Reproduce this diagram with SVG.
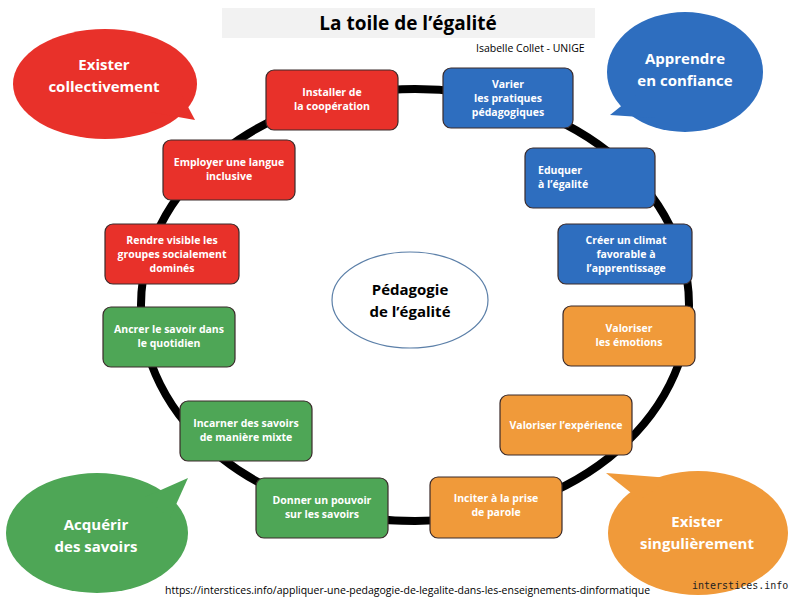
<svg xmlns="http://www.w3.org/2000/svg" width="799" height="600" viewBox="0 0 799 600">
<style>
.t{font-family:"Open Sans","Liberation Sans",sans-serif;font-weight:bold;fill:#fff;text-anchor:middle}
.n{font-size:10.5px}
.b{font-size:15px}
rect.box{stroke:#3a2a2a;stroke-width:1.2}
.red{fill:#e8312a}.blue{fill:#2e6ebf}.org{fill:#f09a3a}.grn{fill:#4ea656}
</style>
<rect width="799" height="600" fill="#fff"/>
<g id="connectors"><ellipse cx="415" cy="305" rx="274" ry="216" fill="none" stroke="#000" stroke-width="8"/></g>
<g id="title"><rect x="222" y="8" width="373" height="30" fill="#f2f2f2"/>
<text x="408" y="30" text-anchor="middle" font-family="Open Sans,Liberation Sans,sans-serif" font-weight="bold" font-size="19">La toile de l’égalité</text>
<text x="476" y="52" font-family="Open Sans,Liberation Sans,sans-serif" font-size="10.5">Isabelle Collet - UNIGE</text></g>
<g id="b-red"><ellipse class="red" cx="105" cy="84" rx="92" ry="55"/><polygon class="red" points="150,112 195,120 178,88"/><text class="t b" x="104" y="70">Exister</text><text class="t b" x="104" y="92">collectivement</text></g>
<g id="b-blue"><ellipse class="blue" cx="685" cy="72" rx="78" ry="60"/><polygon class="blue" points="635,95 610,115 655,118"/><text class="t b" x="685" y="64">Apprendre</text><text class="t b" x="685" y="86">en confiance</text></g>
<g id="b-green"><ellipse class="grn" cx="97" cy="533" rx="91" ry="60"/><polygon class="grn" points="145,497 188,478 170,518"/><text class="t b" x="96" y="530">Acquérir</text><text class="t b" x="96" y="552">des savoirs</text></g>
<g id="b-orange"><ellipse class="org" cx="698" cy="533" rx="90" ry="62"/><polygon class="org" points="640,500 606,473 670,478"/><text class="t b" x="697" y="527">Exister</text><text class="t b" x="697" y="549">singulièrement</text></g>
<g id="center"><ellipse cx="410" cy="300" rx="78" ry="48" fill="#fff" stroke="#5b7fa8" stroke-width="1.2"/>
<text x="410" y="295" text-anchor="middle" font-family="Open Sans,Liberation Sans,sans-serif" font-weight="bold" font-size="15">Pédagogie</text>
<text x="410" y="317" text-anchor="middle" font-family="Open Sans,Liberation Sans,sans-serif" font-weight="bold" font-size="15">de l’égalité</text></g>
<g id="n1"><rect class="box red" x="266" y="70" width="132" height="60" rx="8"/><text class="t n" x="332" y="96">Installer de</text><text class="t n" x="332" y="110">la coopération</text></g>
<g id="n2"><rect class="box blue" x="443" y="68" width="130" height="60" rx="8"/><text class="t n" x="508" y="88">Varier</text><text class="t n" x="508" y="102">les pratiques</text><text class="t n" x="508" y="116">pédagogiques</text></g>
<g id="n3"><rect class="box blue" x="525" y="148" width="130" height="60" rx="8"/><text class="t n" x="560" y="174" text-anchor="start">Eduquer</text><text class="t n" x="563" y="188" text-anchor="start">à l’égalité</text></g>
<g id="n4"><rect class="box blue" x="558" y="224" width="134" height="60" rx="8"/><text class="t n" x="626" y="244">Créer un climat</text><text class="t n" x="626" y="258">favorable à</text><text class="t n" x="626" y="272">l’apprentissage</text></g>
<g id="n5"><rect class="box org" x="563" y="306" width="132" height="60" rx="8"/><text class="t n" x="629" y="332">Valoriser</text><text class="t n" x="629" y="346">les émotions</text></g>
<g id="n6"><rect class="box org" x="500" y="395" width="132" height="60" rx="8"/><text class="t n" x="566" y="429">Valoriser l’expérience</text></g>
<g id="n7"><rect class="box org" x="430" y="477" width="132" height="61" rx="8"/><text class="t n" x="496" y="502">Inciter à la prise</text><text class="t n" x="496" y="516">de parole</text></g>
<g id="n8"><rect class="box grn" x="256" y="478" width="132" height="60" rx="8"/><text class="t n" x="322" y="504">Donner un pouvoir</text><text class="t n" x="322" y="518">sur les savoirs</text></g>
<g id="n9"><rect class="box grn" x="180" y="401" width="132" height="60" rx="8"/><text class="t n" x="246" y="427">Incarner des savoirs</text><text class="t n" x="246" y="441">de manière mixte</text></g>
<g id="n10"><rect class="box grn" x="103" y="307" width="132" height="60" rx="8"/><text class="t n" x="169" y="333">Ancrer le savoir dans</text><text class="t n" x="169" y="347">le quotidien</text></g>
<g id="n11"><rect class="box red" x="105" y="224" width="134" height="60" rx="8"/><text class="t n" x="172" y="244">Rendre visible les</text><text class="t n" x="172" y="258">groupes socialement</text><text class="t n" x="172" y="272">dominés</text></g>
<g id="n12"><rect class="box red" x="163" y="140" width="132" height="60" rx="8"/><text class="t n" x="229" y="166">Employer une langue</text><text class="t n" x="229" y="180">inclusive</text></g>
<text x="165" y="594" font-family="Open Sans,Liberation Sans,sans-serif" font-size="10.5">https://interstices.info/appliquer-une-pedagogie-de-legalite-dans-les-enseignements-dinformatique</text>
<text x="692" y="589" font-family="DejaVu Sans Mono,monospace" font-size="10" fill="#222">interstices.info</text>
</svg>
